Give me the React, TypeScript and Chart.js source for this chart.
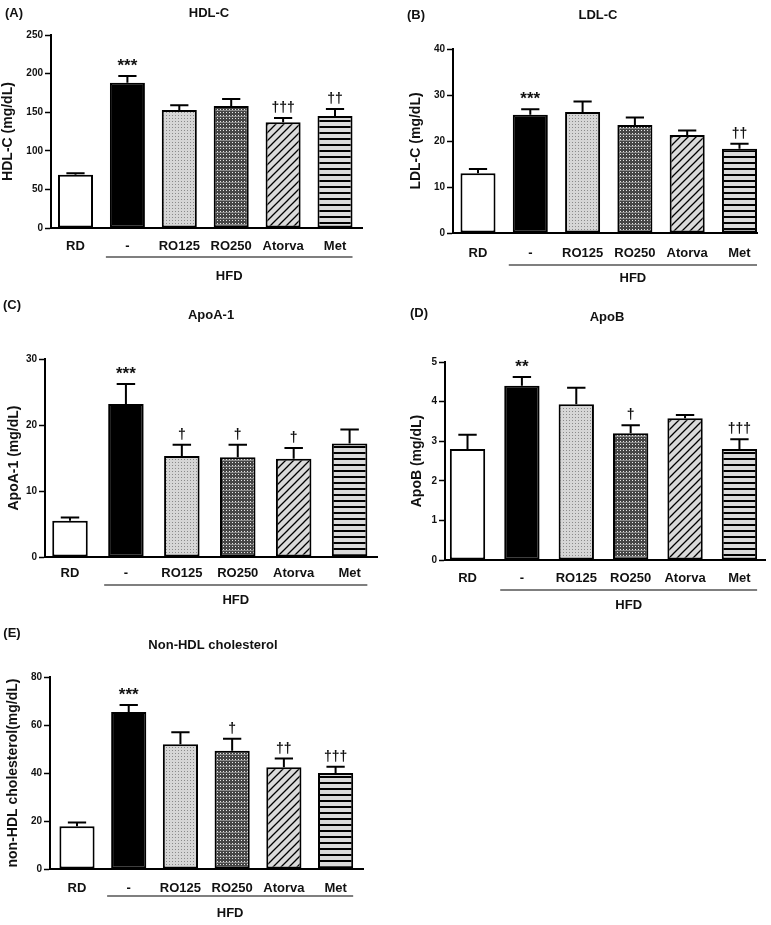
import React, { useEffect, useRef } from 'react';
import { Chart, registerables } from 'chart.js';

Chart.register(...registerables);

// ---------- data ----------
const categories = ['RD', '-', 'RO125', 'RO250', 'Atorva', 'Met'];
const groupLabel = 'HFD';
const fills = ['white', 'black', 'dots', 'dense', 'diagonal', 'stripes'];

const hdlValues = [69, 188, 153, 158, 137, 145];
const hdlErrors = [2, 9, 6, 9, 5.5, 9];
const hdlMarks = ['', '***', '', '', '†††', '††'];
const hdlTicks = [0, 50, 100, 150, 200, 250];

const ldlValues = [13, 25.7, 26.3, 23.5, 21.3, 18.3];
const ldlErrors = [0.9, 1.2, 2.3, 1.6, 1.0, 1.1];
const ldlMarks = ['', '***', '', '', '', '††'];
const ldlTicks = [0, 10, 20, 30, 40];

const apoaValues = [5.5, 23.2, 15.3, 15.1, 14.9, 17.2];
const apoaErrors = [0.5, 3.0, 1.7, 1.9, 1.6, 2.1];
const apoaMarks = ['', '***', '†', '†', '†', ''];
const apoaTicks = [0, 10, 20, 30];

const apobValues = [2.8, 4.4, 3.93, 3.2, 3.58, 2.8];
const apobErrors = [0.36, 0.22, 0.42, 0.2, 0.08, 0.25];
const apobMarks = ['', '**', '', '†', '', '†††'];
const apobTicks = [0, 1, 2, 3, 4, 5];

const nonHdlValues = [17.8, 65.4, 52, 49.3, 42.4, 40];
const nonHdlErrors = [1.6, 2.9, 5, 5, 3.6, 2.6];
const nonHdlMarks = ['', '***', '', '†', '††', '†††'];
const nonHdlTicks = [0, 20, 40, 60, 80];

// ---------- layout ----------
const FONT = '"Liberation Sans", Arial, sans-serif';

type PanelSpec = {
  letter: string;
  title: string;
  yTitle: string;
  values: number[];
  errors: number[];
  marks: string[];
  ticks: number[];
  box: { x: number; y: number; w: number; h: number };
  area: { l: number; t: number; r: number; b: number };
  xMin: number;
  xMax: number;
  barPct: number;
  letterPos: [number, number];
  titlePos: [number, number];
  yTitlePad: number;
  labelPad: number;
  hfdLineOff: number;
  hfdTextOff: number;
};

const panels: PanelSpec[] = [
  {
    letter: '(A)', title: 'HDL-C', yTitle: 'HDL-C (mg/dL)',
    values: hdlValues, errors: hdlErrors, marks: hdlMarks, ticks: hdlTicks,
    box: { x: 0, y: 0, w: 385, h: 290 },
    area: { l: 51, t: 35, r: 362, b: 228 },
    xMin: -0.472, xMax: 5.52, barPct: 0.675,
    letterPos: [14, 13], titlePos: [209, 13],
    yTitlePad: 0, labelPad: 3, hfdLineOff: 29, hfdTextOff: 19,
  },
  {
    letter: '(B)', title: 'LDL-C', yTitle: 'LDL-C (mg/dL)',
    values: ldlValues, errors: ldlErrors, marks: ldlMarks, ticks: ldlTicks,
    box: { x: 385, y: 0, w: 386, h: 290 },
    area: { l: 68, t: 49, r: 372, b: 233 },
    xMin: -0.478, xMax: 5.335, barPct: 0.67,
    letterPos: [31, 15], titlePos: [213, 15],
    yTitlePad: 23, labelPad: 5, hfdLineOff: 32, hfdTextOff: 13,
  },
  {
    letter: '(C)', title: 'ApoA-1', yTitle: 'ApoA-1 (mg/dL)',
    values: apoaValues, errors: apoaErrors, marks: apoaMarks, ticks: apoaTicks,
    box: { x: 0, y: 290, w: 385, h: 330 },
    area: { l: 45, t: 69, r: 377, b: 267 },
    xMin: -0.447, xMax: 5.49, barPct: 0.635,
    letterPos: [12, 15], titlePos: [211, 25],
    yTitlePad: 6, labelPad: 1, hfdLineOff: 28, hfdTextOff: 15,
  },
  {
    letter: '(D)', title: 'ApoB', yTitle: 'ApoB (mg/dL)',
    values: apobValues, errors: apobErrors, marks: apobMarks, ticks: apobTicks,
    box: { x: 385, y: 290, w: 386, h: 330 },
    area: { l: 60, t: 72, r: 380, b: 270 },
    xMin: -0.414, xMax: 5.47, barPct: 0.65,
    letterPos: [34, 23], titlePos: [222, 27],
    yTitlePad: 24, labelPad: 3, hfdLineOff: 30, hfdTextOff: 15,
  },
  {
    letter: '(E)', title: 'Non-HDL cholesterol', yTitle: 'non-HDL cholesterol(mg/dL)',
    values: nonHdlValues, errors: nonHdlErrors, marks: nonHdlMarks, ticks: nonHdlTicks,
    box: { x: 0, y: 620, w: 385, h: 305 },
    area: { l: 50, t: 57, r: 363, b: 249 },
    xMin: -0.522, xMax: 5.53, barPct: 0.68,
    letterPos: [12, 13], titlePos: [213, 25],
    yTitlePad: 5, labelPad: 4, hfdLineOff: 27, hfdTextOff: 17,
  },
];

// ---------- patterns ----------
function makeFill(kind: string): string | CanvasPattern {
  if (kind === 'white') return '#ffffff';
  if (kind === 'black') return '#000000';
  const tile = document.createElement('canvas');
  let size = 3;
  if (kind === 'dense') size = 6;
  if (kind === 'diagonal') size = 8;
  if (kind === 'stripes') size = 6;
  tile.width = size;
  tile.height = size;
  const c = tile.getContext('2d')!;
  if (kind === 'dots') {
    c.fillStyle = '#d6d6d6';
    c.fillRect(0, 0, size, size);
    c.fillStyle = '#8a8a8a';
    c.fillRect(1, 1, 1, 1);
  } else if (kind === 'dense') {
    c.fillStyle = '#454545';
    c.fillRect(0, 0, size, size);
    c.fillStyle = '#e8e8e8';
    c.fillRect(1, 1, 1, 1);
    c.fillRect(4, 1, 1, 1);
    c.fillRect(1, 4, 1, 1);
    c.fillRect(4, 4, 1, 1);
    c.fillStyle = '#8c8c8c';
    c.fillRect(0, 2, size, 1);
  } else if (kind === 'diagonal') {
    c.fillStyle = '#dadada';
    c.fillRect(0, 0, size, size);
    c.strokeStyle = '#000';
    c.lineWidth = 1.3;
    c.beginPath();
    c.moveTo(-1, size + 1);
    c.lineTo(size + 1, -1);
    c.moveTo(-1, 1);
    c.lineTo(1, -1);
    c.moveTo(size - 1, size + 1);
    c.lineTo(size + 1, size - 1);
    c.stroke();
  } else if (kind === 'stripes') {
    c.fillStyle = '#dadada';
    c.fillRect(0, 0, size, size);
    c.fillStyle = '#000';
    c.fillRect(0, 0, size, 2);
  }
  const ctx = document.createElement('canvas').getContext('2d')!;
  return ctx.createPattern(tile, 'repeat') as CanvasPattern;
}

// ---------- panel ----------
function Panel({ p }: { p: PanelSpec }) {
  const ref = useRef<HTMLCanvasElement | null>(null);

  useEffect(() => {
    const canvas = ref.current;
    if (!canvas) return;

    const overlay = {
      id: 'overlay',
      afterDatasetsDraw(chart: any) {
        const ctx = chart.ctx as CanvasRenderingContext2D;
        const meta = chart.getDatasetMeta(0);
        const ys = chart.scales.y;
        meta.data.forEach((bar: any, i: number) => {
          const top = ys.getPixelForValue(p.values[i] + p.errors[i]);
          const cap = bar.width * 0.26;
          ctx.save();
          ctx.strokeStyle = '#000';
          ctx.lineWidth = 2;
          ctx.beginPath();
          ctx.moveTo(bar.x, bar.y);
          ctx.lineTo(bar.x, top);
          ctx.moveTo(bar.x - cap, top);
          ctx.lineTo(bar.x + cap, top);
          ctx.stroke();
          const m = p.marks[i];
          if (m) {
            ctx.fillStyle = '#111';
            ctx.textAlign = 'center';
            ctx.textBaseline = 'alphabetic';
            if (m.startsWith('*')) {
              ctx.font = `bold 17px ${FONT}`;
              ctx.fillText(m, bar.x, top - 5);
            } else {
              ctx.font = `bold 14px ${FONT}`;
              ctx.fillText(m, bar.x, top - 6);
            }
          }
          ctx.restore();
        });
      },
      afterDraw(chart: any) {
        const ctx = chart.ctx as CanvasRenderingContext2D;
        const xs = chart.scales.x;
        const meta = chart.getDatasetMeta(0);
        const bw = meta.data[1].width;
        ctx.save();
        ctx.fillStyle = '#111';
        ctx.textAlign = 'center';
        ctx.textBaseline = 'middle';
        ctx.font = `bold 13px ${FONT}`;
        ctx.fillText(p.letter, p.letterPos[0], p.letterPos[1]);
        ctx.fillText(p.title, p.titlePos[0], p.titlePos[1]);
        const x1 = xs.getPixelForValue(1) - bw / 2 - 4;
        const x2 = xs.getPixelForValue(5) + bw / 2;
        const ly = chart.chartArea.bottom + p.hfdLineOff;
        ctx.strokeStyle = '#000';
        ctx.lineWidth = 1.2;
        ctx.beginPath();
        ctx.moveTo(x1, ly);
        ctx.lineTo(x2, ly);
        ctx.stroke();
        ctx.fillText(groupLabel, (x1 + x2) / 2, ly + p.hfdTextOff);
        ctx.restore();
      },
    };

    const chart = new Chart(canvas, {
      type: 'bar',
      data: {
        datasets: [
          {
            data: p.values.map((v, i) => ({ x: i, y: v })),
            backgroundColor: fills.map(makeFill) as any,
            borderColor: '#000',
            borderWidth: 2,
            borderSkipped: false,
            barPercentage: p.barPct,
            categoryPercentage: 1,
          } as any,
        ],
      },
      options: {
        animation: false,
        responsive: false,
        maintainAspectRatio: false,
        devicePixelRatio: 1,
        layout: {
          padding: { left: 0, top: p.area.t, right: p.box.w - p.area.r, bottom: 0 },
        },
        plugins: {
          legend: { display: false },
          tooltip: { enabled: false },
          title: { display: false },
        },
        scales: {
          x: {
            type: 'linear',
            position: 'bottom',
            offset: false,
            min: p.xMin,
            max: p.xMax,
            afterFit: (s: any) => {
              s.height = p.box.h - p.area.b;
            },
            grid: { display: false, offset: false },
            border: { display: true, color: '#000', width: 2 },
            ticks: {
              stepSize: 1,
              includeBounds: false,
              autoSkip: false,
              maxRotation: 0,
              minRotation: 0,
              padding: p.labelPad,
              color: '#111',
              font: { family: FONT, size: 13, weight: 'bold' },
              callback: (v: any) => {
                const n = Number(v);
                return Number.isInteger(n) && categories[n] !== undefined ? categories[n] : '';
              },
            },
          } as any,
          y: {
            type: 'linear',
            min: p.ticks[0],
            max: p.ticks[p.ticks.length - 1],
            afterFit: (s: any) => {
              s.width = p.area.l;
            },
            afterBuildTicks: (s: any) => {
              s.ticks = p.ticks.map((v) => ({ value: v }));
            },
            grid: {
              display: true,
              drawOnChartArea: false,
              drawTicks: true,
              tickLength: 6,
              tickColor: '#000',
              tickWidth: 1.5,
            },
            border: { display: true, color: '#000', width: 2 },
            ticks: {
              padding: 2,
              color: '#111',
              font: { family: FONT, size: 10, weight: 'bold' },
            },
            title: {
              display: true,
              text: p.yTitle,
              color: '#111',
              font: { family: FONT, size: 14, weight: 'bold' },
              padding: { top: p.yTitlePad, bottom: 0 },
            },
          } as any,
        },
      },
      plugins: [overlay],
    });

    return () => chart.destroy();
  }, [p]);

  return (
    <canvas
      ref={ref}
      width={p.box.w}
      height={p.box.h}
      style={{
        position: 'absolute',
        left: p.box.x,
        top: p.box.y,
        width: p.box.w,
        height: p.box.h,
      }}
    />
  );
}

export default function App() {
  return (
    <div
      style={{
        position: 'absolute',
        left: 0,
        top: 0,
        width: 771,
        height: 925,
        background: '#ffffff',
      }}
    >
      {panels.map((p) => (
        <Panel key={p.letter} p={p} />
      ))}
    </div>
  );
}
